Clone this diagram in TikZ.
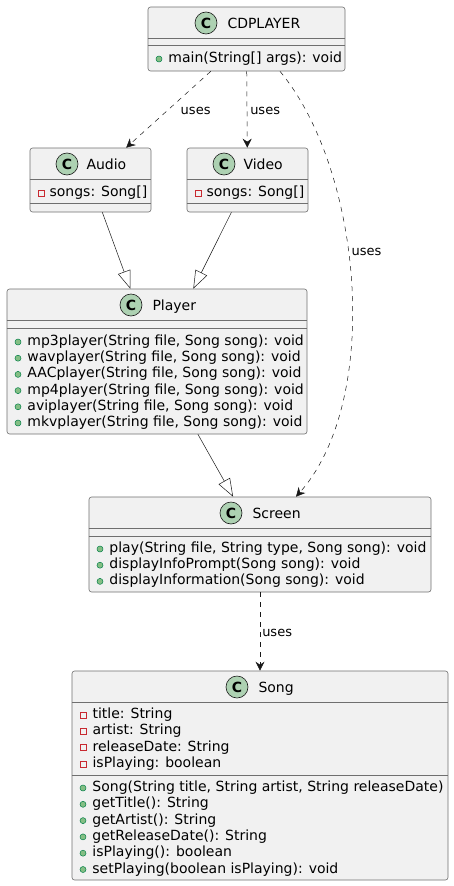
\documentclass[tikz,border=0pt]{standalone}
\usepackage{fontspec}
\setmainfont{DejaVu Sans}
\usetikzlibrary{arrows.meta, positioning}
\definecolor{umlfill}{HTML}{F1F1F1}
\definecolor{umlline}{HTML}{181818}
\definecolor{boxline}{HTML}{6F6F6F}
\definecolor{iconfill}{HTML}{ADD1B2}
\definecolor{pubfill}{HTML}{84BE84}
\definecolor{publine}{HTML}{038048}
\definecolor{privline}{HTML}{C82930}

\begin{document}
\begin{tikzpicture}[x=1pt, y=-1pt,
  classbox/.style={draw=boxline, fill=umlfill, rounded corners=2.5pt, line width=0.6pt, inner sep=0pt},
  classicon/.style={circle, draw=umlline, fill=iconfill, line width=0.6pt, minimum size=22pt, inner sep=0pt, font=\fontsize{14}{14}\selectfont\bfseries},
  classname/.style={font=\fontsize{14}{16}\selectfont, inner sep=0pt, text height=10pt, text depth=0pt},
  member/.style={font=\fontsize{14}{16}\selectfont, inner sep=0pt, text height=10pt, text depth=3pt},
  pubmark/.style={circle, draw=publine, fill=pubfill, minimum size=6pt, inner sep=0pt, line width=0.5pt},
  privmark/.style={rectangle, draw=privline, minimum size=6pt, inner sep=0pt, line width=0.8pt},
  sepline/.style={draw=boxline, line width=0.6pt},
  uses/.style={draw=umlline, line width=0.5pt, dash pattern=on 5pt off 5pt, -{Stealth[length=9pt, width=9pt, inset=3pt]}},
  extends/.style={draw=umlline, line width=0.5pt, -{Triangle[open, length=18pt, width=13pt]}},
  useslabel/.style={font=\fontsize{13}{13}\selectfont, inner sep=0pt, text height=9pt, text depth=0pt}]
  \useasboundingbox (0,0) rectangle (454,886);

  % CDPLAYER
  \node[classbox, minimum width=197pt, minimum height=64pt] (cdplayer) at (246.5,39) {};
  \node[classicon] (cdplayer-icon) at (206,23) {C};
  \node[classname, right=10pt of cdplayer-icon] (cdplayer-name) {CDPLAYER};
  \draw[sepline] ([yshift=-32pt]cdplayer.north west) -- ([yshift=-32pt]cdplayer.north east);
  \draw[sepline] ([yshift=-39pt]cdplayer.north west) -- ([yshift=-39pt]cdplayer.north east);
  \node[pubmark] (cdplayer-m0) at (159,59) {};
  \node[member, right=6pt of cdplayer-m0] (cdplayer-t0) {main(String[] args): void};

  % Audio
  \node[classbox, minimum width=121pt, minimum height=64pt] (audio) at (90.5,180) {};
  \node[classicon] (audio-icon) at (67,164) {C};
  \node[classname, right=8pt of audio-icon] (audio-name) {Audio};
  \draw[sepline] ([yshift=-32pt]audio.north west) -- ([yshift=-32pt]audio.north east);
  \draw[sepline] ([yshift=-56pt]audio.north west) -- ([yshift=-56pt]audio.north east);
  \node[privmark] (audio-f0) at (41,193) {};
  \node[member, right=5pt of audio-f0] (audio-t0) {songs: Song[]};

  % Video
  \node[classbox, minimum width=121pt, minimum height=64pt] (video) at (247.5,180) {};
  \node[classicon] (video-icon) at (224,164) {C};
  \node[classname, right=8pt of video-icon] (video-name) {Video};
  \draw[sepline] ([yshift=-32pt]video.north west) -- ([yshift=-32pt]video.north east);
  \draw[sepline] ([yshift=-56pt]video.north west) -- ([yshift=-56pt]video.north east);
  \node[privmark] (video-f0) at (198,193) {};
  \node[member, right=5pt of video-f0] (video-t0) {songs: Song[]};

  % Player
  \node[classbox, minimum width=300pt, minimum height=145pt] (player) at (157,361.5) {};
  \node[classicon] (player-icon) at (131,305) {C};
  \node[classname, right=10pt of player-icon] (player-name) {Player};
  \draw[sepline] ([yshift=-32pt]player.north west) -- ([yshift=-32pt]player.north east);
  \draw[sepline] ([yshift=-40pt]player.north west) -- ([yshift=-40pt]player.north east);
  \foreach \txt [count=\i from 0] in {{mp3player(String file, Song song): void},
      {wavplayer(String file, Song song): void}, {AACplayer(String file, Song song): void},
      {mp4player(String file, Song song): void}, {aviplayer(String file, Song song): void},
      {mkvplayer(String file, Song song): void}} {
    \node[pubmark] (player-m\i) at (18,{342+16.2*\i}) {};
    \node[member, right=6pt of player-m\i] (player-t\i) {\txt};
  }

  % Screen
  \node[classbox, minimum width=342pt, minimum height=95pt] (screen) at (260,544.5) {};
  \node[classicon] (screen-icon) at (231,513) {C};
  \node[classname, right=10pt of screen-icon] (screen-name) {Screen};
  \draw[sepline] ([yshift=-32pt]screen.north west) -- ([yshift=-32pt]screen.north east);
  \draw[sepline] ([yshift=-40pt]screen.north west) -- ([yshift=-40pt]screen.north east);
  \foreach \txt [count=\i from 0] in {{play(String file, String type, Song song): void},
      {displayInfoPrompt(Song song): void}, {displayInformation(Song song): void}} {
    \node[pubmark] (screen-m\i) at (100,{549+16.2*\i}) {};
    \node[member, right=6pt of screen-m\i] (screen-t\i) {\txt};
  }

  % Song
  \node[classbox, minimum width=376pt, minimum height=209pt] (song) at (260,775.5) {};
  \node[classicon] (song-icon) at (237,687) {C};
  \node[classname, right=10pt of song-icon] (song-name) {Song};
  \draw[sepline] ([yshift=-32pt]song.north west) -- ([yshift=-32pt]song.north east);
  \draw[sepline] ([yshift=-105pt]song.north west) -- ([yshift=-105pt]song.north east);
  \foreach \txt [count=\i from 0] in {{title: String}, {artist: String},
      {releaseDate: String}, {isPlaying: boolean}} {
    \node[privmark] (song-f\i) at (83,{715+16.3*\i}) {};
    \node[member, right=6pt of song-f\i] (song-ft\i) {\txt};
  }
  \foreach \txt [count=\i from 0] in {{Song(String title, String artist, String releaseDate)},
      {getTitle(): String}, {getArtist(): String}, {getReleaseDate(): String},
      {isPlaying(): boolean}, {setPlaying(boolean isPlaying): void}} {
    \node[pubmark] (song-m\i) at (83,{788+16.3*\i}) {};
    \node[member, right=6pt of song-m\i] (song-mt\i) {\txt};
  }

  % connectors
  \draw[uses] (cdplayer) -- (audio) node[useslabel, midway, right=12pt] (uses-audio) {uses};
  \draw[uses] (cdplayer) -- (video) node[useslabel, midway, right=3pt] (uses-video) {uses};
  \draw[uses] (cdplayer.-44) .. controls (363,171) and (382,400) .. (screen.53)
    node[useslabel, pos=0.43, right=3pt] (uses-screen) {uses};
  \draw[extends] (audio) -- (player);
  \draw[extends] (video) -- (player);
  \draw[extends] (player) -- (screen);
  \draw[uses] (screen) -- (song) node[useslabel, midway, right=2pt] (uses-song) {uses};
\end{tikzpicture}
\end{document}
